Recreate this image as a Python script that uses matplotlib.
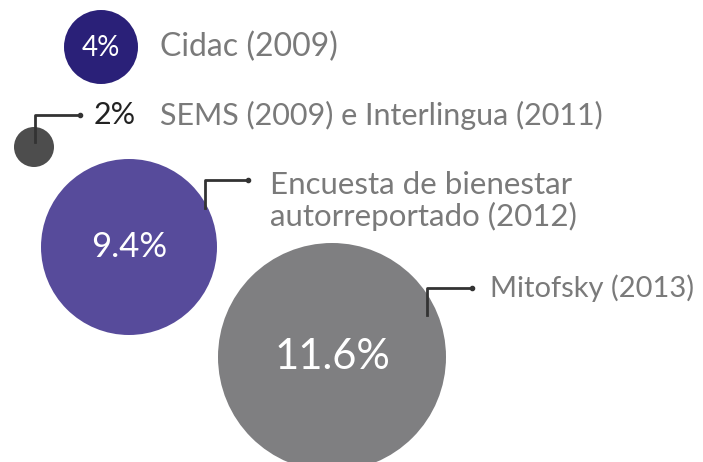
import matplotlib.pyplot as plt
from matplotlib.patches import Circle

# values and labels
valores = ["4%", "2%", "9.4%", "11.6%"]
fuentes = ["Cidac (2009)", "SEMS (2009) e Interlingua (2011)",
           "Encuesta de bienestar\nautorreportado (2012)", "Mitofsky (2013)"]
colores = ["#2a2078", "#4d4d4d", "#574b9b", "#7f7f81"]

# layout (pixel coords of the 703x462 picture)
centros = [(101, 47), (34, 147), (129, 247), (332, 357)]
radios = [37, 20, 88, 114]

plt.rcParams['font.family'] = ['Lato', 'DejaVu Sans']

fig = plt.figure(figsize=(7.03, 4.62), dpi=100)
ax = fig.add_axes([0, 0, 1, 1])
ax.set_xlim(0, 703)
ax.set_ylim(462, 0)
ax.axis('off')

for (cx, cy), r, c in zip(centros, radios, colores):
    ax.add_patch(Circle((cx, cy), r, color=c, lw=0))

gris = "#7a7a7a"
linea = "#333333"

# 4% - label inside the circle
ax.text(101, 48, valores[0], color="white", fontsize=20, ha='center', va='center')
ax.text(160, 47, fuentes[0], color=gris, fontsize=23, ha='left', va='center')

# 2% - small circle with connector
ax.plot([35, 35, 80], [142, 115, 115], color=linea, lw=2)
ax.plot(80, 115, 'o', color=linea, ms=3)
ax.text(94, 115, valores[1], color="#222222", fontsize=22, ha='left', va='center')
ax.text(160, 115, fuentes[1], color=gris, fontsize=22, ha='left', va='center')

# 9.4%
ax.text(129, 247, valores[2], color="white", fontsize=25, ha='center', va='center')
ax.plot([205, 205, 248], [208, 180, 180], color=linea, lw=2)
ax.plot(248, 180, 'o', color=linea, ms=3)
ax.text(270, 201, fuentes[2], color=gris, fontsize=22.5, ha='left', va='center',
        linespacing=1.12)

# 11.6%
ax.text(332, 357, valores[3], color="white", fontsize=30, ha='center', va='center')
ax.plot([427, 427, 472], [315, 288, 288], color=linea, lw=2)
ax.plot(472, 288, 'o', color=linea, ms=3)
ax.text(490, 288, fuentes[3], color=gris, fontsize=21, ha='left', va='center')

fig.savefig("out.png", dpi=100, facecolor="white")
